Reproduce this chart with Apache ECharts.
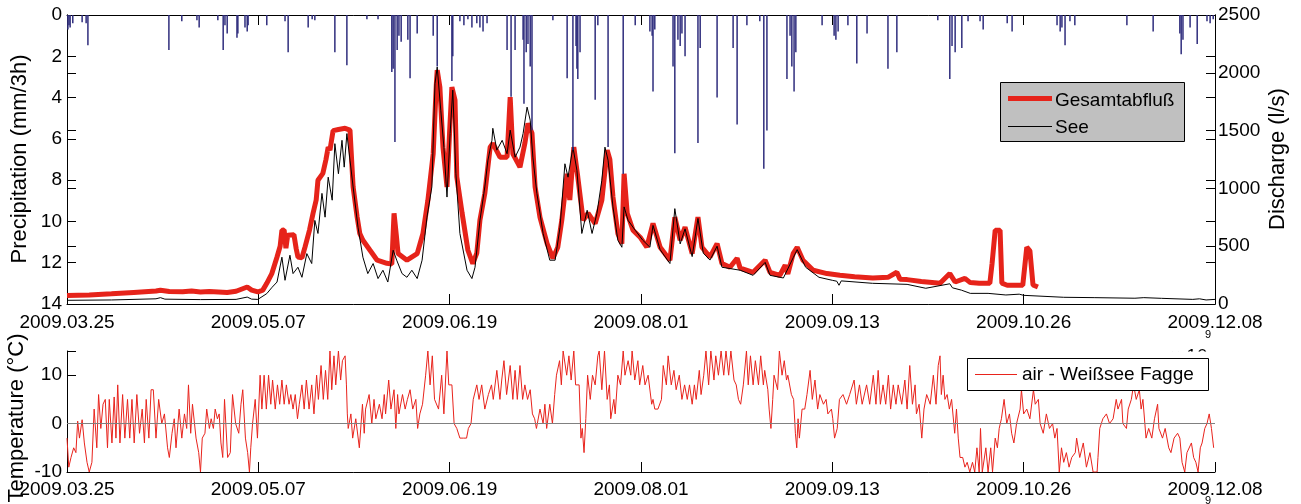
<!DOCTYPE html>
<html>
<head>
<meta charset="utf-8">
<script src="https://cdn.jsdelivr.net/npm/echarts@6/dist/echarts.min.js"></script>
<style>
  html, body { margin: 0; padding: 0; background: #fff; }
  #chart { width: 1301px; height: 504px; }
</style>
</head>
<body>
<div id="chart"></div>
<script>
// x is days since 2009.03.25, one tick every 43 days
const xTickLabels = ['2009.03.25', '2009.05.07', '2009.06.19', '2009.08.01', '2009.09.13', '2009.10.26', '2009.12.08'];

// precipitation (mm/3h), [day, value]
const precipitation = [
  [0.2, 0.7], [0.45, 0.5], [0.7, 0.6], [1.3, 0.4], [3.4, 0.35], [4.3, 0.4], [4.7, 1.46],
  [22.9, 1.7], [25.8, 0.3], [29.2, 0.25], [29.7, 0.6], [33.9, 0.25], [35.1, 1.7], [35.5, 0.5],
  [36, 0.9], [38.2, 1.1], [38.4, 0.9], [40, 0.6], [40.5, 0.8], [40.7, 0.5], [44.9, 0.5],
  [49, 0.3], [49.7, 1.8], [54.2, 0.6], [55.1, 0.2], [55.7, 0.25],
  [60.2, 1.8], [62.9, 2.43], [67.4, 0.2], [69.9, 0.2], [73, 2.76], [73.3, 2.6], [73.7, 6.15],
  [74.2, 1.7], [74.6, 1.0], [75.1, 1.3], [76.6, 1.2], [77.1, 3.07], [78.7, 0.9], [82.3, 1.0],
  [83.2, 2.5], [86.5, 3.2], [86.7, 2.0], [88.3, 0.3], [89.2, 0.5], [90.1, 0.2], [91, 0.6],
  [92.1, 0.4], [92.8, 0.6], [93.5, 0.8], [94.4, 0.4], [98.9, 1.7], [99.8, 3.96], [100.7, 1.7],
  [102.5, 1.2], [102.7, 4.3], [103.2, 1.8], [103.6, 1.4], [104.1, 2.5], [104.5, 5.58],
  [109.2, 0.25], [112.4, 3.07], [113.7, 6.55], [114.4, 1.5], [114.6, 2.6], [114.8, 3.1],
  [115.3, 1.8], [118.7, 4.1], [119.3, 0.5], [121.6, 6.4], [125, 7.7], [127.7, 0.5],
  [131, 0.8], [131.5, 1.0], [131.7, 3.7], [132.1, 0.7], [136.2, 2.5], [136.6, 6.7],
  [137.3, 1.2], [137.8, 1.5], [138.2, 0.9], [138.9, 2.0], [141.8, 6.2], [142.3, 1.6],
  [146.1, 4.0], [149.7, 1.6], [150.6, 5.3], [152.8, 0.5], [155.7, 0.3], [156.6, 7.45],
  [157.3, 5.6], [161.8, 3.1], [162.5, 1.0], [162.9, 2.5], [163.4, 3.7], [163.8, 1.8],
  [169.7, 0.5], [172.4, 1.0], [172.8, 1.2], [173.3, 0.8], [175.5, 0.5], [177.5, 2.35],
  [179.8, 0.9], [184.5, 2.6], [186.5, 1.8], [195.7, 0.25], [198.4, 3.1], [198.9, 1.5],
  [199.6, 1.8], [201.1, 1.6], [202.5, 0.3], [205.2, 0.3], [205.9, 0.7], [211.3, 0.4],
  [212.4, 0.8], [222.5, 0.5], [223.2, 0.8], [223.6, 0.6], [224.3, 1.46], [225.4, 0.3],
  [226.5, 0.5], [238.2, 0.5], [244.1, 0.8], [250.1, 0.9], [250.4, 1.9], [250.8, 1.2],
  [252.4, 0.6], [254, 1.4], [256.2, 0.3], [256.9, 0.4], [257.6, 0.2]
];

// Gesamtabfluss (l/s), [day, value]
const gesamtabfluss = [
  [0, 73], [5, 78], [10, 88], [15, 100], [20, 112], [21, 119], [23, 108], [26, 106], [28, 112],
  [30, 104], [32, 108], [34, 104], [36, 100], [38, 110], [40.5, 147], [41.5, 120], [42.9, 104],
  [44, 120], [44.9, 179], [46, 260], [47.2, 407], [47.9, 500], [48.3, 638], [48.8, 640],
  [49.2, 482], [49.6, 595], [51, 600], [51.5, 480], [51.9, 407], [52.8, 400], [53.5, 494],
  [54.5, 640], [55.3, 785], [56, 900], [56.4, 1070], [57.5, 1130], [58.2, 1250], [58.7, 1357],
  [59.1, 1331], [59.8, 1500], [61, 1510], [62.5, 1520], [63.6, 1504], [64.3, 1013], [65.2, 753],
  [65.8, 610], [66.5, 552], [68.1, 465], [69.7, 379], [71.9, 352], [73, 345], [73.5, 785],
  [74, 600], [74.4, 436], [76.4, 379], [78.7, 436], [80, 610], [81.1, 896], [82.3, 1300],
  [83, 1900], [83.2, 2023], [83.8, 1877], [84.5, 1357], [85.4, 1013], [86, 1500], [86.5, 1877],
  [87.2, 1764], [87.6, 1100], [88.8, 785], [90.1, 465], [91.2, 350], [92.1, 440], [92.8, 725],
  [93.9, 957], [95.1, 1357], [95.7, 1390], [97.3, 1270], [98.9, 1270], [99.6, 1790],
  [100.2, 1300], [101.8, 1184], [102.9, 1390], [103.6, 1563], [104.5, 1477], [105.2, 1013],
  [106.3, 750], [107.9, 522], [109.2, 396], [110.3, 491], [111.2, 725], [112.4, 1127],
  [113, 900], [113.9, 1357], [114.8, 1097], [116, 725], [117.1, 785], [118.7, 695],
  [120.2, 898], [121.4, 1331], [122, 1250], [122.7, 925], [123.8, 610], [124.7, 522],
  [125.2, 1127], [125.9, 785], [127.2, 638], [128.8, 578], [130.3, 491], [131.7, 697],
  [133.3, 491], [135.5, 379], [136.6, 751], [137.8, 552], [138.9, 664], [140.5, 436],
  [141.8, 751], [142.7, 491], [144.5, 405], [146.1, 522], [147.2, 350], [149, 318],
  [150.6, 396], [151.3, 310], [154.2, 274], [156.9, 379], [158, 274], [160.2, 248],
  [161.4, 335], [162, 260], [163.2, 436], [164.1, 491], [165.4, 379], [167.7, 292],
  [170.8, 263], [173.7, 248], [177, 235], [181.1, 225], [184.5, 231], [186.5, 275],
  [187.2, 215], [188.8, 211], [192, 195], [196.2, 179], [198.4, 263], [199.6, 190],
  [201.8, 222], [203, 185], [205, 179], [207.4, 179], [207.9, 350], [208.6, 638],
  [209.7, 638], [210.1, 180], [211.3, 162], [214.8, 162], [215.7, 491], [216.4, 460],
  [217.1, 165], [218.2, 147]
];

// See (l/s), [day, value]
const see = [
  [0, 32], [10, 35], [20, 45], [21, 55], [22, 42], [30, 38], [38, 40], [40.5, 60], [41.5, 42],
  [42.9, 40], [44.9, 90], [46.1, 145], [47.2, 190], [48.3, 405], [49, 205], [50.1, 422],
  [50.8, 263], [51.9, 318], [52.8, 231], [53.9, 436], [55, 350], [55.7, 723], [56.4, 610],
  [57.3, 957], [58, 751], [58.7, 1097], [59.6, 898], [60.2, 1387], [61, 1127], [61.8, 1416],
  [62.3, 1184], [62.9, 1474], [63.6, 1244], [64.3, 1013], [65.4, 664], [66.5, 405],
  [67.6, 263], [68.8, 350], [69.9, 220], [71, 292], [72.1, 190], [73.3, 465], [74.1, 379],
  [75.3, 263], [76.4, 231], [77.5, 292], [78.7, 220], [79.8, 379], [80.9, 751], [82, 1013],
  [82.7, 1905], [83.2, 2050], [84, 1676], [84.7, 1357], [85.4, 925], [86.1, 1474],
  [86.7, 1850], [87.4, 1127], [88.3, 610], [89.9, 292], [91, 220], [91.7, 318], [92.8, 723],
  [93.9, 1013], [94.6, 1244], [95.5, 1416], [95.7, 1520], [96.6, 1331], [97.8, 1416],
  [98.9, 1300], [99.6, 1504], [100.7, 1270], [101.8, 1357], [102.5, 1474], [103.4, 1703],
  [104.1, 1590], [104.7, 1270], [105.6, 957], [107, 610], [108.5, 379], [109.7, 379],
  [110.8, 664], [111.9, 1213], [112.6, 1097], [113.7, 1357], [114.6, 1156], [115.7, 610],
  [116.9, 811], [118, 610], [119.1, 785], [120.2, 1070], [120.9, 1357], [121.6, 1244],
  [122.7, 840], [123.8, 552], [124.7, 491], [125.2, 840], [126.1, 723], [127.7, 638],
  [129.4, 552], [131, 491], [131.7, 680], [133.3, 470], [135.5, 350], [136.6, 825],
  [137.8, 520], [138.9, 650], [140.5, 410], [141.8, 740], [143, 440], [144.5, 380],
  [146.1, 500], [147.2, 318], [151.3, 292], [154.2, 248], [156.9, 360], [158, 248],
  [161, 225], [163.2, 400], [164.1, 470], [166, 318], [169, 231], [172, 205], [173, 197],
  [173.5, 162], [174, 200], [181, 179], [188.8, 170], [193, 136], [198.4, 175], [199, 140],
  [201, 120], [203, 92], [207, 92], [211, 78], [214, 85], [215, 75], [224, 58], [231, 55],
  [240, 50], [242, 55], [246, 49], [253, 40], [254.5, 45], [256, 35], [258, 40]
];

// air temperature Weisssee Fagge (deg C), [day, value]
const airTemperature = [
  [0, -3], [0.4, -9], [0.9, -7], [1.5, -5], [2, -6], [2.4, 0.5], [2.8, -3], [3.4, 0.8], [3.9, -4],
  [4.5, -8], [5, -10], [5.6, -8], [6.1, 3], [6.7, -5], [7.1, 6], [7.6, -1], [8.1, 4], [8.6, 5],
  [9.1, -5], [9.5, 5], [10.1, -4], [10.6, 5.5], [11, -3], [11.4, 8], [11.9, -4], [12.5, 6],
  [13, -3], [13.6, 5], [14.1, -3], [14.6, 5], [15.1, -4], [15.7, 6], [16.3, -2], [16.9, 3],
  [17.4, -4], [17.8, 5], [18.4, -3], [18.9, 7], [19.4, 7], [20, -3], [20.6, 5], [21.3, 0],
  [21.9, 2], [22.6, -5], [23, -7], [23.6, -2], [24.1, 1], [24.5, -5], [25.2, 3], [25.8, -3],
  [26.4, 2], [26.9, -1], [27.3, 8], [27.8, -2], [28.2, 4], [29, -3], [29.6, -6], [30, -10],
  [30.4, -3], [31, -2], [31.4, 3], [32, -1], [32.4, 1], [32.9, -1], [33.3, 3], [33.8, 1],
  [34.2, 2], [34.6, -4], [35, -7], [35.4, 5], [36.1, -7], [36.7, -6], [37.2, 6], [37.9, 0],
  [38.6, -2], [39.1, 4], [39.5, 7], [40.1, -3], [40.6, -6], [41, -10], [41.3, -5], [41.7, 0],
  [42.3, 5], [42.8, -3], [43.4, 10], [43.8, 3], [44.3, 10], [44.8, 3], [45.3, 10], [45.8, 4],
  [46.2, 9], [46.8, 3], [47.3, 8], [47.8, 4], [48.3, 9], [48.8, 4], [49.3, 8], [49.9, 4],
  [50.3, 6], [50.8, 3], [51.3, 6], [51.8, 1], [52.2, 4], [52.8, 8], [53.3, 3], [53.8, 9],
  [54.4, 3], [55, 8], [55.5, 2], [56.1, 10], [56.5, 5], [57.1, 12], [57.6, 5], [58.1, 11],
  [58.6, 5], [59.1, 15], [59.5, 7], [60, 14], [60.4, 8], [61, 15], [61.5, 9], [61.9, 13],
  [62.5, 14], [62.8, 8], [63, 2], [63.2, -1], [63.8, 2], [64.2, -3], [64.9, 1], [65.7, -5],
  [66.4, 4], [66.8, -2], [67.1, 3], [67.9, 6], [68.5, 0], [69, 5], [69.4, 1], [70.2, 4],
  [70.8, 1], [71.3, 6], [71.6, 2], [72.3, 9], [72.8, 3], [73.5, 7], [73.9, -1], [74.3, 6],
  [74.6, 2], [75.4, 6], [76, 3], [76.5, 5], [77.1, 7], [77.7, 3], [78.4, 5], [78.8, -1],
  [79.3, 2], [79.9, 4], [80.6, 10], [81.1, 15], [81.6, 8], [82.1, 14], [82.6, 5],
  [83.5, 3], [84.2, 10], [84.7, 2], [85.4, 15], [85.8, 8], [86.5, 8], [87, 0], [87.6, -1],
  [88.3, -3], [89.1, -3], [89.8, -3], [90.2, -1], [90.8, 0], [91.3, 5], [92.1, 8], [92.6, 5],
  [93.2, 8], [93.9, 3], [94.7, 6], [95.4, 8], [95.8, 5], [96.6, 11], [97.3, 5], [97.7, 9],
  [98.2, 13], [98.8, 6], [99.6, 12], [100.2, 5], [100.7, 11], [101.2, 5], [101.8, 12],
  [102.4, 5], [102.9, 8], [103.5, 5], [104.1, 7], [104.6, 2], [105.1, 1], [105.5, -1],
  [106.3, 3], [107, 0], [107.4, 4], [107.8, -1], [108.5, 4], [109.1, 0], [109.6, 6], [110, 10],
  [110.7, 13], [111.1, 8], [111.5, 15], [112.3, 10], [112.8, 14], [113.3, 9], [113.9, 15],
  [114.3, 8], [115.1, 8], [115.5, -3], [115.8, -1], [116.2, -6], [116.6, 1], [117, 10],
  [117.6, 5], [118.1, 10], [118.7, 8], [119.3, 14], [119.6, 15], [120.2, 7], [120.8, 15],
  [121.4, 5], [121.9, 8], [122.2, 1], [122.9, 5], [123.2, 2], [123.8, 10], [124.4, 8],
  [125, 15], [125.4, 10], [126.1, 13], [126.7, 10], [127, 15], [127.6, 9], [128.3, 13],
  [128.7, 8], [129.4, 12], [129.9, 8], [130.6, 10], [131.4, 4], [131.7, 5], [132.1, 3],
  [132.8, 3], [133.6, 5], [134, 12], [134.7, 8], [135.1, 14], [135.8, 8], [136.4, 11],
  [136.9, 7], [137.6, 10], [138.2, 5], [138.8, 8], [139.4, 5], [139.9, 8], [140.5, 4],
  [141, 8], [141.4, 5], [142.1, 11], [142.5, 6], [143.1, 10], [143.6, 15], [144.2, 8],
  [144.7, 15], [145.4, 9], [145.8, 14], [146.4, 10], [147, 15], [147.6, 10], [148.1, 15],
  [148.7, 10], [149.2, 15], [149.9, 9], [150.4, 8], [150.9, 5], [151.4, 4], [152, 8],
  [152.7, 15], [153.1, 8], [153.6, 14], [154.2, 8], [154.7, 13], [155.4, 8], [155.9, 14],
  [156.5, 8], [156.8, 11], [157.5, 7], [157.8, 3], [158.2, -1], [158.6, 5], [158.9, 10],
  [159.7, 7], [160.1, 15], [160.7, 10], [161.2, 13], [161.7, 9], [162, 10], [162.8, 6],
  [163.3, 5], [163.7, -2], [164, -5], [164.3, 1], [164.6, -3], [165.2, 3], [165.8, 3],
  [166.3, 6], [167, 11], [167.5, 5], [168.1, 9], [168.7, 3], [169.2, 6], [170, 4], [170.6, 5],
  [171, 2], [171.8, 3], [172.1, 1], [172.5, -3], [173.1, -1], [173.6, 5], [174.4, 6],
  [175.2, 4], [175.9, 6], [176.9, 9], [177.4, 4], [178.1, 8],
  [178.7, 4], [179.7, 8], [180.4, 4], [181.2, 10], [181.8, 4], [182.3, 11], [182.8, 4],
  [183.4, 8], [184, 4], [184.6, 10], [185.1, 3], [185.7, 8], [186.3, 4], [186.8, 8],
  [187.6, 4], [188.3, 9], [188.8, 3], [189.4, 12], [190, 4], [190.6, 8], [190.9, 2],
  [191.5, 4], [192.1, -3], [192.6, 3], [193.2, 6], [194, 4], [194.7, 10], [195.3, 4],
  [195.8, 12], [196.2, 14], [196.5, 6], [196.9, 10], [197.3, 5], [197.8, 6], [198.3, 3],
  [198.8, 5], [199.5, -2], [199.9, 3], [200.3, -3], [200.7, -7], [201.3, -7], [201.8, -9],
  [202.3, -8], [202.9, -10], [203.5, -8], [204, -10], [204.5, -5], [205, -10], [205.3, -1],
  [205.7, -10], [206.5, -5], [207, -10], [207.6, -5], [208, -10], [208.6, -3], [209.1, -5],
  [209.5, -1], [210, 1], [210.6, 5], [211.2, 0], [211.8, 2], [212.3, -2], [212.8, -4],
  [213.4, 0], [214.2, 3], [214.5, 7], [215, 2], [215.7, 3], [216.4, 1], [217.2, 7],
  [217.6, 4], [218.3, 5], [218.7, 0], [219.4, -2], [220.1, 2], [220.8, -1], [221.5, 0],
  [222, -3], [222.5, -1], [223, -10], [223.5, -5], [224, -8], [224.6, -6], [225.2, -9],
  [225.8, -7], [226.6, -6], [226.9, -3], [227.6, -7], [228.4, -4], [229.1, -9], [229.9, -6],
  [230.6, -10], [231.5, -10], [231.7, -7], [232.1, -1], [232.8, 1], [233.6, 2], [234.3, 0],
  [235.1, 1], [235.8, 5], [236.2, 3], [237, 5], [237.3, 0], [238.1, -1], [238.5, 3],
  [239.2, 5], [239.7, 8], [240.3, 5], [241, 7], [241.4, 3], [241.8, 5], [242.5, -3],
  [243.1, -1], [243.8, -3], [244.4, 1], [245.1, 4], [245.4, -1], [246.2, -3], [246.8, -1],
  [247.6, -5], [248.1, -6], [248.8, -3], [249.6, -2], [250.1, -3], [250.6, -8], [251.2, -10],
  [251.7, -6], [252.1, -6], [252.7, -4], [253.2, -7], [253.7, -8], [254.2, -10], [254.7, -5],
  [255.1, -4], [255.7, -1], [256.2, 0], [256.7, 2], [257.2, -1], [257.7, -5]
];

const FONT = 'Liberation Sans';
const black = '#000';

const dateAxis = (gridIndex, position, showLabels, margin) => ({
  type: 'value', gridIndex, position, min: 0, max: 258, interval: 43,
  axisLine: { show: true, onZero: false, lineStyle: { color: black, width: 1 } },
  axisTick: { show: true, inside: true, length: 10, lineStyle: { color: black } },
  splitLine: { show: false },
  axisLabel: {
    show: showLabels, margin, color: black, fontFamily: FONT, fontSize: 19,
    formatter: (v) => xTickLabels[Math.round(v / 43)] || ''
  }
});

const valueAxis = (gridIndex, position, min, max, interval, inverse, showLabels, margin) => ({
  type: 'value', gridIndex, position, min, max, interval, inverse,
  axisLine: { show: true, onZero: false, lineStyle: { color: black, width: 1 } },
  axisTick: { show: true, inside: true, length: 9, lineStyle: { color: black } },
  splitLine: { show: false },
  axisLabel: { show: showLabels, margin, color: black, fontFamily: FONT, fontSize: 19, formatter: (v) => String(v) }
});

const tempAxis = valueAxis(1, 'left', -10, 15, 10, false, true, 5);
tempAxis.axisLabel.formatter = (v) => (v === -10 || v === 0 || v === 10) ? String(v) : '';

const option = {
  backgroundColor: '#fff',
  animation: false,
  grid: [
    { left: 67, top: 15, width: 1148, height: 289 },
    { left: 67, top: 351, width: 1148, height: 121 }
  ],
  xAxis: [
    dateAxis(0, 'bottom', true, 9),
    dateAxis(0, 'top', false, 9),
    dateAxis(1, 'bottom', true, 8)
  ],
  yAxis: [
    valueAxis(0, 'left', 0, 14, 2, true, true, 5),
    valueAxis(0, 'right', 0, 2500, 500, false, true, 3),
    valueAxis(0, 'right', 0, 14, 2, true, false, 3),
    valueAxis(0, 'left', 0, 2500, 500, false, false, 3),
    tempAxis
  ],
  series: [
    {
      name: 'Gesamtabfluß', type: 'line', xAxisIndex: 0, yAxisIndex: 1,
      data: gesamtabfluss, showSymbol: false,
      lineStyle: { color: '#e6231a', width: 5 }, z: 2
    },
    {
      name: 'See', type: 'line', xAxisIndex: 0, yAxisIndex: 1,
      data: see, showSymbol: false,
      lineStyle: { color: '#000', width: 1 }, z: 3
    },
    {
      name: 'Precipitation', type: 'bar', xAxisIndex: 0, yAxisIndex: 0,
      data: precipitation, barWidth: 1.5,
      itemStyle: { color: '#2f2d7d' }, z: 4
    },
    {
      name: 'air - Weißsee Fagge', type: 'line', xAxisIndex: 2, yAxisIndex: 4,
      data: airTemperature, showSymbol: false,
      lineStyle: { color: '#e8231c', width: 1 },
      markLine: {
        silent: true, symbol: 'none', label: { show: false },
        lineStyle: { color: '#808080', width: 1, type: 'solid' },
        data: [{ yAxis: 0 }]
      }
    }
  ],
  graphic: [
    // axis titles
    { type: 'text', x: 20, y: 159, rotation: Math.PI / 2,
      style: { text: 'Precipitation (mm/3h)', font: '22px "Liberation Sans"', fill: black, align: 'center', verticalAlign: 'middle' } },
    { type: 'text', x: 1278, y: 159, rotation: Math.PI / 2,
      style: { text: 'Discharge (l/s)', font: '22px "Liberation Sans"', fill: black, align: 'center', verticalAlign: 'middle' } },
    { type: 'text', x: 17, y: 418, rotation: Math.PI / 2,
      style: { text: 'Temperature (°C)', font: '22px "Liberation Sans"', fill: black, align: 'center', verticalAlign: 'middle' } },
    // exponent marks left by the date axes
    { type: 'text', x: 1208, y: 335, style: { text: '9', font: '11px "Liberation Sans"', fill: black, align: 'center', verticalAlign: 'middle' } },
    { type: 'text', x: 1208, y: 501, style: { text: '9', font: '11px "Liberation Sans"', fill: black, align: 'center', verticalAlign: 'middle' } },
    { type: 'text', x: 1170, y: 347, style: { text: '× 10', font: '19px "Liberation Sans"', fill: black, align: 'left', verticalAlign: 'top' } },
    { type: 'rect', shape: { x: 1160, y: 351.5, width: 54, height: 20 }, style: { fill: '#fff' }, z: 50 },
    // legend of the discharge panel
    { type: 'rect', shape: { x: 1000.5, y: 82.5, width: 184, height: 59 }, style: { fill: '#c0c0c0', stroke: '#000', lineWidth: 1 }, z: 60 },
    { type: 'line', shape: { x1: 1008, y1: 98.5, x2: 1052, y2: 98.5 }, style: { stroke: '#e6231a', lineWidth: 5 }, z: 61 },
    { type: 'text', x: 1055, y: 101, style: { text: 'Gesamtabfluß', font: '19px "Liberation Sans"', fill: black, verticalAlign: 'middle' }, z: 61 },
    { type: 'line', shape: { x1: 1008, y1: 126.5, x2: 1052, y2: 126.5 }, style: { stroke: '#000', lineWidth: 1 }, z: 61 },
    { type: 'text', x: 1055, y: 128, style: { text: 'See', font: '19px "Liberation Sans"', fill: black, verticalAlign: 'middle' }, z: 61 },
    // legend of the temperature panel
    { type: 'rect', shape: { x: 967.5, y: 358.5, width: 241, height: 32 }, style: { fill: '#fff', stroke: '#000', lineWidth: 1 }, z: 60 },
    { type: 'line', shape: { x1: 975, y1: 374.5, x2: 1017, y2: 374.5 }, style: { stroke: '#e8231c', lineWidth: 1 }, z: 61 },
    { type: 'text', x: 1022, y: 375, style: { text: 'air - Weißsee Fagge', font: '19px "Liberation Sans"', fill: black, verticalAlign: 'middle' }, z: 61 }
  ]
};

const chart = echarts.init(document.getElementById('chart'), null, { renderer: 'canvas' });
chart.setOption(option);
</script>
</body>
</html>
